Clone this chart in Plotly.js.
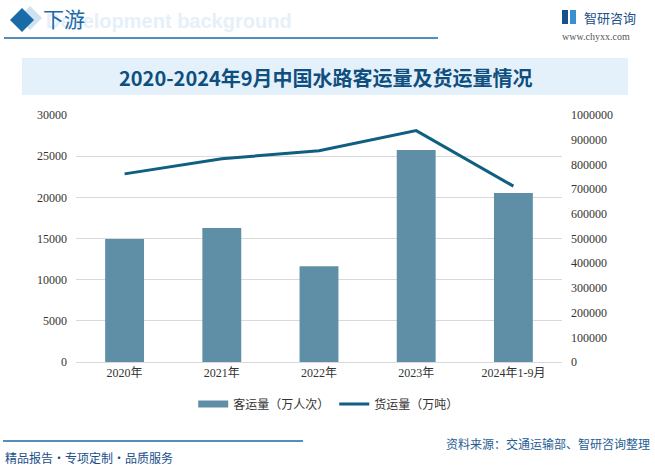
<!DOCTYPE html>
<html>
<head>
<meta charset="utf-8">
<script src="https://cdn.plot.ly/plotly-3.0.1.min.js"></script>
<style>
html,body{margin:0;padding:0;background:#fff;}
#chart{width:655px;height:466px;}
</style>
</head>
<body>
<div id="chart"></div>
<script>
const categories = ["2020年", "2021年", "2022年", "2023年", "2024年1-9月"];
const passengerVolume = [14950, 16280, 11630, 25750, 20520];      // 万人次
const freightVolume = [761600, 823000, 855300, 936700, 712000];   // 万吨
const leftTicks = [0, 5000, 10000, 15000, 20000, 25000, 30000];
const rightTicks = [0, 100000, 200000, 300000, 400000, 500000, 600000, 700000, 800000, 900000, 1000000];
const seriesNames = ["客运量（万人次）", "货运量（万吨）"];
const chartTitle = "2020-2024年9月中国水路客运量及货运量情况";

const numFont = "Liberation Serif, Noto Sans CJK SC, serif";
const cjk = "Noto Sans CJK SC, sans-serif";
const barColor = "#5e8fa6";

const traces = [
  {
    type: "bar", x: categories, y: passengerVolume, name: seriesNames[0],
    marker: {color: barColor}, width: 0.4, yaxis: "y", showlegend: false
  },
  // legend proxy for the bar series (wide swatch, as in the reference)
  {
    type: "scatter", mode: "lines", x: [null], y: [null], name: seriesNames[0],
    line: {color: barColor, width: 7}, yaxis: "y"
  },
  {
    type: "scatter", mode: "lines", x: categories, y: freightVolume, name: seriesNames[1],
    line: {color: "#0e5f82", width: 3}, yaxis: "y2"
  }
];

const blue = "#1a6aa8";
function px(x){ return (x - 76) / 486; }
function py(y){ return (362 - y) / 247; }
function pathDiamond(cx, cy, r){
  return "M " + px(cx) + "," + py(cy - r) + " L " + px(cx + r) + "," + py(cy) +
         " L " + px(cx) + "," + py(cy + r) + " L " + px(cx - r) + "," + py(cy) + " Z";
}

const layout = {
  width: 655, height: 466,
  margin: {l: 76, r: 93, t: 115, b: 104},
  paper_bgcolor: "#ffffff", plot_bgcolor: "#ffffff",
  showlegend: true,
  legend: {orientation: "h", x: 0.52, xanchor: "center", y: -0.17, yanchor: "middle",
           font: {family: cjk, size: 12, color: "#333"}, tracegroupgap: 0},
  xaxis: {tickfont: {family: numFont, size: 12, color: "#333"}, showline: true, linecolor: "#d9d9d9",
          ticks: "", fixedrange: true},
  yaxis: {range: [0, 30000], tickvals: leftTicks, ticktext: leftTicks.map(String),
          tickfont: {family: numFont, size: 12, color: "#333"}, gridcolor: "#d9d9d9",
          zeroline: false, ticks: "", ticklabelstandoff: 8},
  yaxis2: {range: [0, 1000000], tickvals: rightTicks, ticktext: rightTicks.map(String), overlaying: "y", side: "right",
           tickfont: {family: numFont, size: 12, color: "#333"}, showgrid: false, zeroline: false,
           ticks: "", ticklabelstandoff: 8},
  shapes: [
    {type: "rect", xref: "paper", yref: "paper", x0: px(22), x1: px(628),
     y0: py(95), y1: py(58), fillcolor: "#e5f1fa", line: {width: 0}, layer: "below"},
    {type: "line", xref: "paper", yref: "paper", x0: px(4), x1: px(438),
     y0: py(38), y1: py(38), line: {color: blue, width: 1.5}},
    {type: "line", xref: "paper", yref: "paper", x0: px(3), x1: px(303),
     y0: py(441), y1: py(441), line: {color: blue, width: 1.5}},
    {type: "path", xref: "paper", yref: "paper",
     path: pathDiamond(30, 18, 12), fillcolor: "#cfe2f1", line: {width: 0}},
    {type: "path", xref: "paper", yref: "paper",
     path: pathDiamond(22, 20, 12), fillcolor: blue, line: {width: 0}},
    {type: "rect", xref: "paper", yref: "paper", x0: px(562), x1: px(568), y0: py(24), y1: py(10), fillcolor: "#1a4f8a", line: {width: 0}},
    {type: "rect", xref: "paper", yref: "paper", x0: px(570), x1: px(576), y0: py(24), y1: py(10), fillcolor: "#3a8fd0", line: {width: 0}}
  ],
  annotations: [
    {text: "<b>" + chartTitle + "</b>", xref: "paper", yref: "paper", x: px(326), y: py(77),
     xanchor: "center", yanchor: "middle", showarrow: false, font: {family: "Noto Sans CJK SC", size: 20, color: "#0e4f7f"}},
    {text: "<b>Development background</b>", xref: "paper", yref: "paper", x: px(44), y: py(21),
     xanchor: "left", yanchor: "middle", showarrow: false, font: {family: "Liberation Sans, sans-serif", size: 20, color: "#e6f0f8"}},
    {text: "下游", xref: "paper", yref: "paper", x: px(41), y: py(18),
     xanchor: "left", yanchor: "middle", showarrow: false, font: {family: "Noto Sans CJK SC", size: 21, color: blue}},
    {text: "智研咨询", xref: "paper", yref: "paper", x: px(582), y: py(17),
     xanchor: "left", yanchor: "middle", showarrow: false, font: {family: cjk, size: 13, color: "#1a4f8a"}},
    {text: "www.chyxx.com", xref: "paper", yref: "paper", x: px(560), y: py(37),
     xanchor: "left", yanchor: "middle", showarrow: false, font: {family: "Liberation Serif, serif", size: 10, color: "#555"}},
    {text: "精品报告・专项定制・品质服务", xref: "paper", yref: "paper", x: px(3), y: py(457),
     xanchor: "left", yanchor: "middle", showarrow: false, font: {family: cjk, size: 12, color: "#1a4f8a"}},
    {text: "资料来源：交通运输部、智研咨询整理", xref: "paper", yref: "paper", x: px(652), y: py(443),
     xanchor: "right", yanchor: "middle", showarrow: false, font: {family: cjk, size: 12, color: "#1f5d94"}}
  ]
};

Plotly.newPlot("chart", traces, layout, {displayModeBar: false, staticPlot: true});
</script>
</body>
</html>
